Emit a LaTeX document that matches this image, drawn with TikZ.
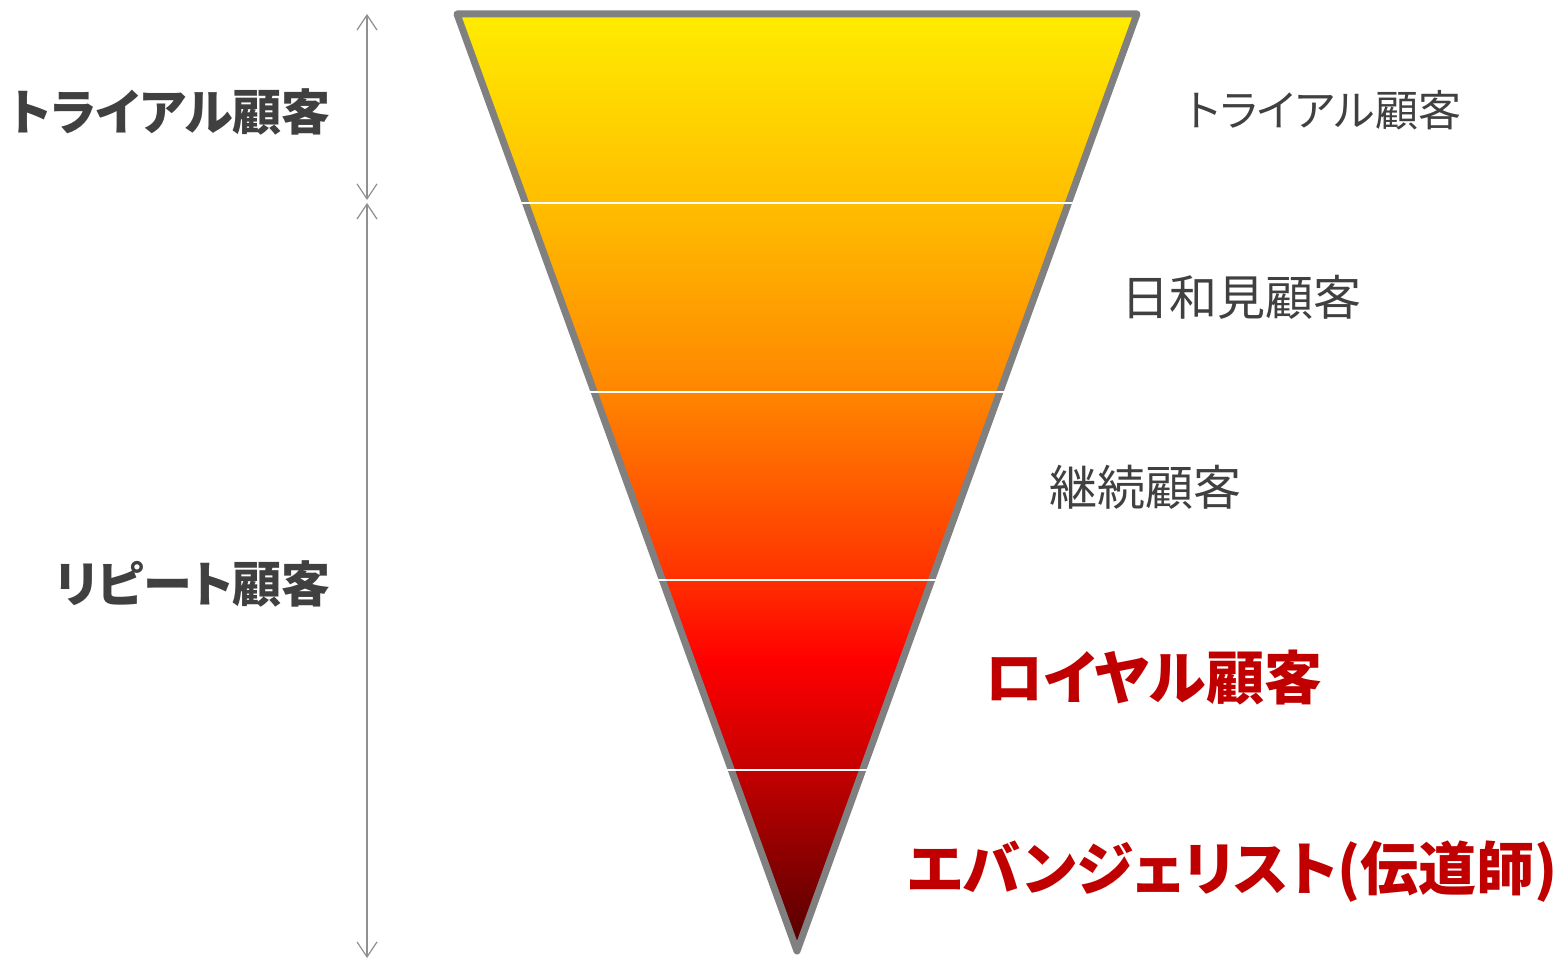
\documentclass[tikz,border=0pt]{standalone}
\usepackage{fontspec}
\newfontfamily\jp[RawFeature={+palt}]{Noto Sans CJK JP}
\usetikzlibrary{arrows.meta,calc}
\definecolor{txtgray}{HTML}{404040}
\definecolor{txtred}{HTML}{C00000}
\definecolor{edgegray}{HTML}{808080}
\definecolor{arrowgray}{HTML}{909090}
\definecolor{c1}{RGB}{255,236,0}
\definecolor{c2}{RGB}{255,190,0}
\definecolor{c3}{RGB}{255,135,0}
\definecolor{c4}{RGB}{255,60,0}
\definecolor{c5}{RGB}{255,0,0}
\definecolor{c6}{RGB}{200,0,0}
\definecolor{c7}{RGB}{80,0,0}
\pgfdeclareverticalshading{funnel}{100bp}{color(0bp)=(c7); color(25bp)=(c7); color(35bp)=(c6); color(40.5bp)=(c5); color(46bp)=(c4); color(55bp)=(c3); color(65bp)=(c2); color(75bp)=(c1); color(100bp)=(c1)}
\tikzset{
  funneledge/.style={draw=edgegray, line width=7pt, line join=round},
  divider/.style={draw=white, line width=2.5pt},
  dimarrow/.style={draw=arrowgray, line width=1.2pt,
    {Straight Barb[length=15pt,width=20pt]}-{Straight Barb[length=15pt,width=20pt]}},
  leftlabel/.style={inner sep=0pt, anchor=base east, text=txtgray,
    font=\jp\bfseries\fontsize{49pt}{59pt}\selectfont},
  rightlabel/.style={inner sep=0pt, anchor=base west, text=txtgray,
    font=\jp\fontsize{48pt}{58pt}\selectfont},
  redlabel/.style={inner sep=0pt, anchor=base west, text=txtred,
    font=\jp\bfseries\fontsize{58pt}{70pt}\selectfont}
}
\begin{document}
\begin{tikzpicture}[x=1pt,y=1pt]
\useasboundingbox (0,0) rectangle (1565,961);
\coordinate (tl) at (457,947);
\coordinate (tr) at (1137,947);
\coordinate (ap) at (797,10);
\shade[shading=funnel] (tl) -- (tr) -- (ap) -- cycle;
\draw[funneledge] (tl) -- (tr) -- (ap) -- cycle;
\foreach \t in {0.2017,0.4034,0.6040,0.8068}
  \draw[divider] ($(tl)!\t!(ap)+(-6,0)$) -- ($(tr)!\t!(ap)+(6,0)$);
\coordinate (u1) at (367,947);
\coordinate (u2) at (367,761);
\coordinate (r1) at (367,758);
\coordinate (r2) at (367,3);
\draw[dimarrow] (u1) -- (u2);
\draw[dimarrow] (r1) -- (r2);
\node[leftlabel] (ltrial) at (331,830) {トライアル顧客};
\node[leftlabel] (lrepeat) at (331,358) {リピート顧客};
\node[rightlabel, font=\jp\fontsize{43pt}{52pt}\selectfont] (rtrial) at (1187,834) {トライアル顧客};
\node[rightlabel] (rfair) at (1121,645) {日和見顧客};
\node[rightlabel] (rcont) at (1049,455) {継続顧客};
\node[redlabel] (rloyal) at (985,261) {ロイヤル顧客};
\node[redlabel] (revan) at (907,71) {エバンジェリスト(伝道師)};
\end{tikzpicture}
\end{document}
